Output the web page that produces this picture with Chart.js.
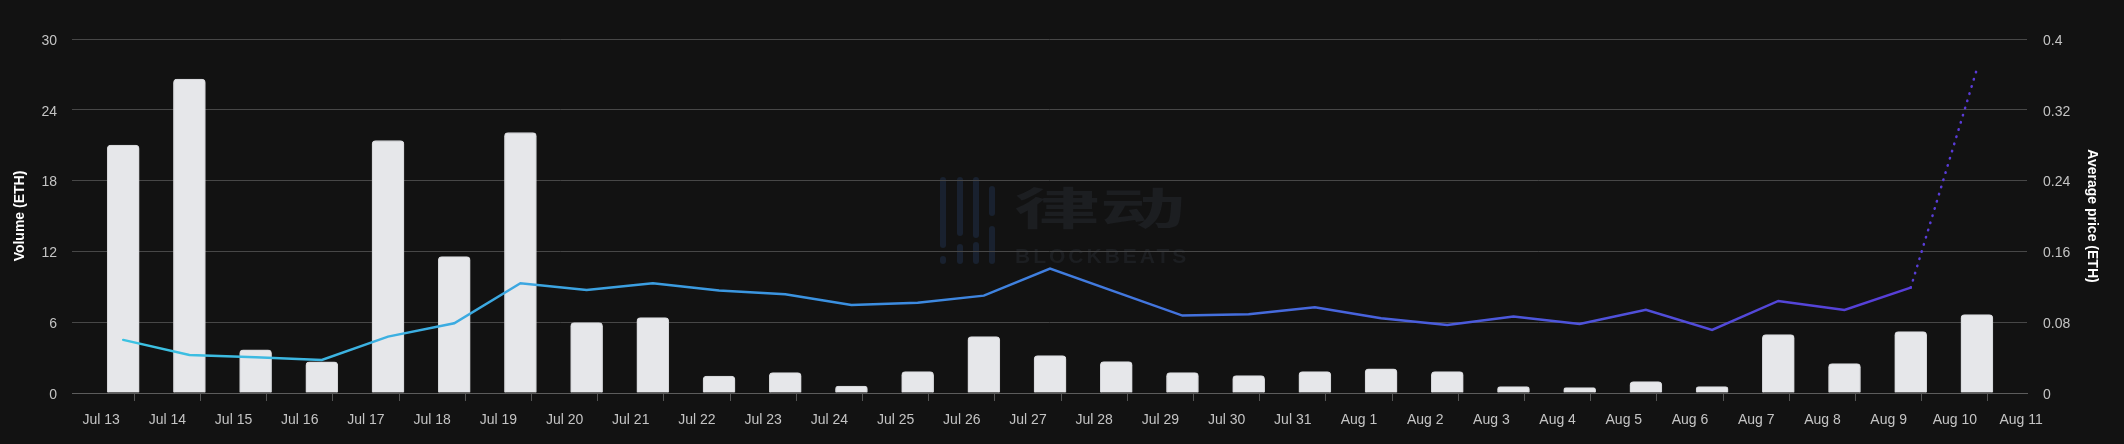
<!DOCTYPE html>
<html>
<head>
<meta charset="utf-8">
<script src="https://cdn.jsdelivr.net/npm/chart.js@4.4.1/dist/chart.umd.min.js"></script>
<style>
  html, body { margin: 0; padding: 0; background: #121212; }
  canvas { display: block; }
</style>
</head>
<body>
<canvas id="grafico" width="2124" height="444"></canvas>
<script>
// dados
const days = ['Jul 13','Jul 14','Jul 15','Jul 16','Jul 17','Jul 18','Jul 19','Jul 20','Jul 21','Jul 22',
  'Jul 23','Jul 24','Jul 25','Jul 26','Jul 27','Jul 28','Jul 29','Jul 30','Jul 31',
  'Aug 1','Aug 2','Aug 3','Aug 4','Aug 5','Aug 6','Aug 7','Aug 8','Aug 9','Aug 10']
const tickLabels = [...days, 'Aug 11']
const volume = [21.0, 26.6, 3.65, 2.65, 21.4, 11.56, 22.08, 5.96, 6.39, 1.44,
  1.72, 0.59, 1.81, 4.78, 3.17, 2.66, 1.72, 1.47, 1.81,
  2.04, 1.81, 0.54, 0.45, 0.96, 0.54, 4.95, 2.49, 5.2, 6.64]
const avgPrice = [0.060, 0.043, 0.0404, 0.0373, 0.0637, 0.0788, 0.124, 0.1165, 0.124, 0.1157,
  0.1116, 0.0995, 0.102, 0.110, 0.1406, 0.114, 0.0875, 0.089, 0.0969,
  0.0845, 0.0769, 0.0863, 0.078, 0.0939, 0.0712, 0.104, 0.0939, 0.119, 0.366]
const volumeTicks = [0, 6, 12, 18, 24, 30]
const priceTicks = [0, 0.08, 0.16, 0.24, 0.32, 0.4]
const dayOffset = 1 / 3 // pontos às 08:00 de cada dia

Chart.defaults.font.family = '"Liberation Sans", Arial, sans-serif'
Chart.defaults.font.size = 14
Chart.defaults.color = '#c4c4c4'

function priceGradient(context) {
  const { ctx, chartArea } = context.chart
  if (!chartArea) return '#3f86e0'
  const g = ctx.createLinearGradient(chartArea.left, 0, chartArea.right, 0)
  g.addColorStop(0, '#3cc6e2')
  g.addColorStop(0.4, '#3b8fe0')
  g.addColorStop(0.7, '#4a5cdc')
  g.addColorStop(1, '#5b36d6')
  return g
}

// fundo + marca d'água
const background = {
  id: 'background',
  beforeDraw(chart) {
    const c = chart.ctx
    c.save()
    c.fillStyle = '#121212'
    c.fillRect(0, 0, chart.width, chart.height)

    c.strokeStyle = '#19212f'
    c.lineWidth = 6
    c.lineCap = 'round'
    const cols = [
      [943, [[180, 245], [259, 261]]],
      [960, [[180, 233], [247, 261]]],
      [976, [[180, 235], [245, 261]]],
      [992, [[189, 213], [229, 261]]]
    ]
    cols.forEach(([x, segs]) => segs.forEach(([a, b]) => {
      c.beginPath(); c.moveTo(x, a); c.lineTo(x, b); c.stroke()
    }))

    c.fillStyle = '#1c1e21'
    c.save()
    c.translate(1014, 208)
    c.scale(1.95, 1)
    c.font = '700 44px "Noto Sans CJK SC"'
    c.textBaseline = 'middle'
    c.fillText('律动', 0, 0)
    c.restore()

    c.font = '700 21px "Liberation Sans"'
    c.letterSpacing = '3px'
    c.textBaseline = 'alphabetic'
    c.fillText('BLOCKBEATS', 1015, 263)
    c.restore()
  }
}

const chart = new Chart(document.getElementById('grafico'), {
  type: 'bar',
  data: {
    datasets: [{
      type: 'line',
      label: 'Average price (ETH)',
      data: avgPrice.map((v, i) => ({ x: i + dayOffset, y: v })),
      yAxisID: 'y1',
      borderColor: priceGradient,
      borderWidth: 2.5,
      borderCapStyle: 'round',
      pointRadius: 0,
      tension: 0,
      order: 0,
      segment: {
        borderDash: c => c.p1DataIndex === avgPrice.length - 1 ? [0.5, 7] : undefined
      }
    }, {
      label: 'Volume (ETH)',
      data: volume.map((v, i) => ({ x: i + dayOffset, y: v })),
      yAxisID: 'y',
      backgroundColor: '#e6e7ea',
      borderColor: '#d2d3d6',
      borderWidth: 1,
      borderRadius: 4,
      barThickness: 32,
      order: 1
    }]
  },
  options: {
    responsive: false,
    animation: false,
    layout: { padding: { top: 39, left: 0, right: 0, bottom: 0 } },
    plugins: { legend: { display: false }, tooltip: { enabled: false } },
    scales: {
      x: {
        type: 'linear',
        min: -0.44,
        max: 29.09,
        offset: false,
        afterBuildTicks: s => { s.ticks = tickLabels.map((_, i) => ({ value: i })) },
        afterFit: s => { s.height = 51 },
        grid: { drawOnChartArea: false, drawTicks: true, tickLength: 8, color: '#555' },
        border: { display: true, color: '#5c5c5c' },
        ticks: {
          autoSkip: false, maxRotation: 0, padding: 11,
          callback: v => tickLabels[v]
        }
      },
      y: {
        position: 'left',
        min: 0, max: 30,
        afterBuildTicks: s => { s.ticks = volumeTicks.map(v => ({ value: v })) },
        afterFit: s => { s.width = 72 },
        grid: { color: '#474747', drawTicks: false },
        border: { display: false },
        ticks: { padding: 15, labelOffset: 2 },
        title: {
          display: true, text: 'Volume (ETH)', color: '#fff',
          font: { size: 14, weight: 'bold' }, padding: { top: 12, bottom: 0 }
        }
      },
      y1: {
        position: 'right',
        min: 0, max: 0.4,
        afterBuildTicks: s => { s.ticks = priceTicks.map(v => ({ value: v })) },
        afterFit: s => { s.width = 97 },
        grid: { drawOnChartArea: false, drawTicks: false },
        border: { display: false },
        ticks: { padding: 16, labelOffset: 2, callback: v => String(+v.toFixed(2)) },
        title: {
          display: true, text: 'Average price (ETH)', color: '#fff',
          font: { size: 14, weight: 'bold' }, padding: { top: 23.6, bottom: 0 }
        }
      }
    }
  },
  plugins: [background]
})
</script>
</body>
</html>
